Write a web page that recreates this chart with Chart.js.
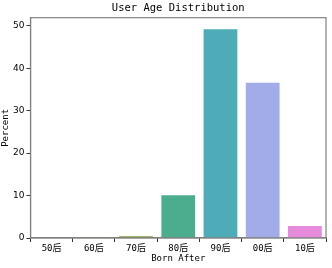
<!DOCTYPE html>
<html>
<head>
<meta charset="utf-8">
<script src="https://cdn.jsdelivr.net/npm/chart.js@4/dist/chart.umd.min.js"></script>
<style>
  html, body { margin: 0; padding: 0; background: #fff; }
  #wrap { width: 332px; height: 268px; }
</style>
</head>
<body>
<div id="wrap"><canvas id="chart" width="332" height="268"></canvas></div>
<script>
// data
const categories = ['50后', '60后', '70后', '80后', '90后', '00后', '10后'];
const percentValues = [0.1, 0.2, 0.4, 10.1, 49.2, 36.6, 2.8];
const yTicks = [0, 10, 20, 30, 40, 50];
const barColors = ['#cf6f88', '#ab9350', '#7f9c3e', '#4bad8e', '#4eabb8', '#a1ace8', '#e68adc'];

const monoFont = "'DejaVu Sans Mono', 'Noto Sans CJK SC', monospace";
const spineColor = '#808080';

// top and right frame lines like matplotlib
const framePlugin = {
    id: 'frame',
    afterDraw(chart) {
        const a = chart.chartArea;
        const ctx = chart.ctx;
        ctx.save();
        ctx.strokeStyle = spineColor;
        ctx.lineWidth = 1.2;
        ctx.strokeRect(a.left, a.top, a.right - a.left, a.bottom - a.top);
        ctx.restore();
    }
};

new Chart(document.getElementById('chart'), {
    type: 'bar',
    data: {
        labels: categories,
        datasets: [{
            data: percentValues,
            backgroundColor: barColors,
            borderWidth: 0,
            barPercentage: 0.8,
            categoryPercentage: 1.0
        }]
    },
    options: {
        responsive: false,
        animation: false,
        devicePixelRatio: 1,
        layout: { padding: { left: 0, right: 6, top: 0, bottom: 4 } },
        plugins: {
            legend: { display: false },
            tooltip: { enabled: false }
        },
        scales: {
            x: {
                grid: { drawOnChartArea: false, drawTicks: true, tickLength: 4, color: '#333' },
                border: { color: spineColor, width: 1.2 },
                ticks: { color: '#000', font: { family: monoFont, size: 9 }, padding: 1, maxRotation: 0 },
                title: {
                    display: true, text: 'Born After', color: '#000',
                    font: { family: monoFont, size: 9 }, padding: { top: 0, bottom: 0 }
                },
                afterFit(scale) { scale.height = 26; }
            },
            // top axis only carries the title, centred over the plot area
            xTop: {
                position: 'top',
                grid: { display: false },
                border: { display: false },
                ticks: { display: false },
                title: {
                    display: true, text: 'User Age Distribution', color: '#000',
                    font: { family: monoFont, size: 10.5 }, padding: { top: 2, bottom: 0 }
                },
                afterFit(scale) { scale.height = 17.7; }
            },
            y: {
                min: 0,
                max: 51.9,
                afterBuildTicks(scale) { scale.ticks = yTicks.map(v => ({ value: v })); },
                grid: { drawOnChartArea: false, drawTicks: true, tickLength: 4, color: '#333' },
                border: { color: spineColor, width: 1.2 },
                ticks: { color: '#000', font: { family: "'DejaVu Sans', sans-serif", size: 9 }, padding: 2 },
                title: {
                    display: true, text: 'Percent', color: '#000',
                    font: { family: monoFont, size: 9 }, padding: { top: 0, bottom: 0 }
                },
                afterFit(scale) { scale.width = 30.5; }
            }
        }
    },
    plugins: [framePlugin]
});
</script>
</body>
</html>
